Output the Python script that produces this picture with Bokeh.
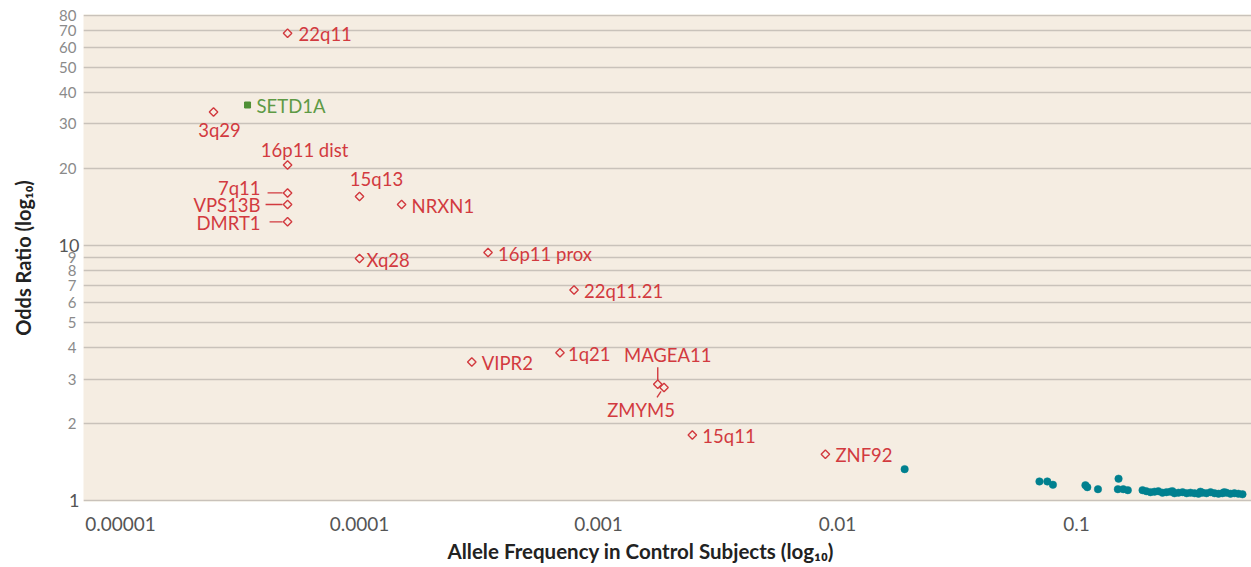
import math
from bokeh.plotting import figure
from bokeh.models import FixedTicker, ColumnDataSource, Title, LogAxis
from bokeh.core.properties import value
from bokeh.embed import file_html
from bokeh.resources import INLINE

# Rare variants (open red diamonds)
rare_names = ["22q11", "3q29", "16p11 dist", "7q11", "VPS13B", "DMRT1", "15q13", "NRXN1",
              "Xq28", "16p11 prox", "22q11.21", "VIPR2", "1q21", "MAGEA11", "ZMYM5",
              "15q11", "ZNF92"]
rare_freq = [5.0e-5, 2.45e-5, 5.0e-5, 5.0e-5, 5.0e-5, 5.0e-5, 1.0e-4, 1.5e-4,
             1.0e-4, 3.45e-4, 7.9e-4, 2.95e-4, 6.9e-4, 1.77e-3, 1.88e-3,
             2.47e-3, 8.9e-3]
rare_or = [68.0, 33.4, 20.7, 16.1, 14.5, 12.4, 15.6, 14.5,
           8.9, 9.4, 6.7, 3.5, 3.8, 2.86, 2.78,
           1.81, 1.52]

# Exome-sequencing hit (green square)
exome_names = ["SETD1A"]
exome_freq = [3.4e-5]
exome_or = [35.6]

# Common variants (teal dots)
common_freq = [0.0191, 0.070, 0.0755, 0.0797, 0.109, 0.111, 0.123, 0.150, 0.149, 0.157, 0.164,
               0.189, 0.196, 0.204, 0.212, 0.220, 0.229, 0.238, 0.247, 0.257, 0.267,
               0.278, 0.289, 0.300, 0.312, 0.324, 0.337, 0.350, 0.364, 0.378, 0.393,
               0.408, 0.424, 0.441, 0.458, 0.476, 0.495, 0.252, 0.330, 0.415]
common_or = [1.33, 1.19, 1.19, 1.155, 1.15, 1.13, 1.11, 1.22, 1.11, 1.11, 1.10,
             1.10, 1.09, 1.08, 1.085, 1.09, 1.075, 1.08, 1.085, 1.07, 1.075,
             1.08, 1.07, 1.075, 1.07, 1.065, 1.075, 1.07, 1.08, 1.07, 1.065,
             1.07, 1.075, 1.065, 1.07, 1.065, 1.06, 1.09, 1.085, 1.08]

y_ticks = [1, 2, 3, 4, 5, 6, 7, 8, 9, 10, 20, 30, 40, 50, 60, 70, 80]
y_emphasis = [1, 10]
x_ticks = [1e-5, 1e-4, 1e-3, 1e-2, 1e-1]
x_tick_labels = ["0.00001", "0.0001", "0.001", "0.01", "0.1"]

# ---- styling / layout ----
W, H = 1251, 567
LEFT, RIGHT, TOP, BOTTOM = 83, 0, 14, 66
X_RANGE = (7.0e-6, 0.54)
Y_RANGE = (0.993, 80.6)
BG = "#f5ede2"
RED = "#d23a3f"
GREEN = "#4f8f35"
TEAL = "#00808f"
GRID = "#c9c2ba"
FONT = "Lato"

frame_w = W - LEFT - RIGHT
frame_h = H - TOP - BOTTOM
px_x = frame_w / (math.log10(X_RANGE[1]) - math.log10(X_RANGE[0]))
px_y = frame_h / (math.log10(Y_RANGE[1]) - math.log10(Y_RANGE[0]))


def shift(x, y, dx, dy):
    """Move a data point by (dx, dy) screen pixels (dy positive = down)."""
    return x * 10 ** (dx / px_x), y * 10 ** (-dy / px_y)


p = figure(width=W, height=H, x_axis_type="log", y_axis_type="log",
           x_range=X_RANGE, y_range=Y_RANGE, output_backend="svg",
           toolbar_location=None, min_border_left=LEFT, min_border_right=RIGHT,
           min_border_top=TOP, min_border_bottom=BOTTOM)
p.background_fill_color = BG
p.border_fill_color = "white"
p.outline_line_color = None

p.xgrid.grid_line_color = None
p.ygrid.ticker = FixedTicker(ticks=y_ticks)
p.ygrid.grid_line_color = GRID
p.ygrid.grid_line_width = 1.6

# inner y axis: light labels between the decades
p.yaxis.ticker = FixedTicker(ticks=y_ticks)
p.yaxis.major_label_overrides = {t: "" for t in y_emphasis}
p.yaxis.axis_line_color = None
p.yaxis.major_tick_line_color = None
p.yaxis.minor_tick_line_color = None
p.yaxis.major_label_standoff = 1
p.yaxis.major_label_text_font = FONT
p.yaxis.major_label_text_font_size = "15px"
p.yaxis.major_label_text_color = "#8a8a8a"

# outer y axis: emphasised decade labels pulled back in line, plus the title
decades = LogAxis(ticker=FixedTicker(ticks=y_emphasis))
decades.major_label_overrides = {t: str(t) for t in y_emphasis}
decades.axis_line_color = None
decades.major_tick_line_color = None
decades.minor_tick_line_color = None
decades.major_label_standoff = -29
decades.major_label_text_font = FONT
decades.major_label_text_font_size = "18px"
decades.major_label_text_color = "#555555"
decades.axis_label = "Odds Ratio (log₁₀)"
decades.axis_label_text_font = FONT
decades.axis_label_text_font_style = "bold"
decades.axis_label_text_font_size = "20px"
decades.axis_label_text_color = "#222222"
decades.axis_label_standoff = 21
p.add_layout(decades, "left")

# x axis
p.xaxis.ticker = FixedTicker(ticks=x_ticks)
p.xaxis.major_label_overrides = {t: s for t, s in zip(x_ticks, x_tick_labels)}
p.xaxis.axis_line_color = None
p.xaxis.major_tick_line_color = None
p.xaxis.minor_tick_line_color = None
p.xaxis.major_label_standoff = 9
p.xaxis.major_label_text_font = FONT
p.xaxis.major_label_text_font_size = "19px"
p.xaxis.major_label_text_color = "#555555"

# x axis title
p.add_layout(Title(text="Allele Frequency in Control Subjects (log₁₀)", align="left",
                   offset=364, text_font=FONT, text_font_size="20.5px",
                   text_font_style="bold", text_color="#222222", standoff=7), "below")

# common variants
p.scatter(common_freq, common_or, marker="circle", size=7.5, fill_color=TEAL,
          line_color=TEAL, line_width=0.5)

# rare variants
p.scatter(rare_freq, rare_or, marker="square", angle=math.pi / 4, size=6,
          fill_color=BG, line_color=RED, line_width=1.4)

# exome hit
p.scatter(exome_freq, exome_or, marker="square", size=6, fill_color=GREEN,
          line_color=GREEN)

# label placement: (dx, dy, align) in screen pixels from the marker
placement = {
    "22q11": (11, 1, "left"),
    "3q29": (6, 18, "center"),
    "16p11 dist": (17, -15, "center"),
    "7q11": (-27, -5, "right"),
    "VPS13B": (-27, 0, "right"),
    "DMRT1": (-27, 1, "right"),
    "15q13": (17, -17, "center"),
    "NRXN1": (10, 1, "left"),
    "Xq28": (7, 1, "left"),
    "16p11 prox": (10, 1, "left"),
    "22q11.21": (10, 1, "left"),
    "VIPR2": (10, 1, "left"),
    "1q21": (8, 1, "left"),
    "MAGEA11": (10, -29, "center"),
    "ZMYM5": (-23, 23, "center"),
    "15q11": (10, 1, "left"),
    "ZNF92": (10, 1, "left"),
}

src = ColumnDataSource(dict(
    x=rare_freq, y=rare_or, text=rare_names,
    dx=[placement[n][0] for n in rare_names],
    dy=[placement[n][1] for n in rare_names],
    align=[placement[n][2] for n in rare_names],
))
p.text(x="x", y="y", text="text", x_offset="dx", y_offset="dy", text_align="align",
       text_baseline="middle", text_font=value(FONT), text_font_size="18.5px",
       text_color=RED, source=src)

p.text(x=exome_freq, y=exome_or, text=exome_names, x_offset=9, y_offset=1,
       text_baseline="middle", text_font=value(FONT), text_font_size="18.5px",
       text_color="#5e9a45")

# leader lines from labels to markers: name -> (dx0, dy0, dx1, dy1)
leaders = {
    "7q11": (-20, 0, -5, 0),
    "VPS13B": (-22, 0, -5, 0),
    "DMRT1": (-18, 0, -5, 0),
    "MAGEA11": (0, -17, 0, -4),
    "ZMYM5": (-3, 4, -7, 10),
}
x0s, y0s, x1s, y1s = [], [], [], []
for n, (a, b, c, d) in leaders.items():
    i = rare_names.index(n)
    xa, ya = shift(rare_freq[i], rare_or[i], a, b)
    xb, yb = shift(rare_freq[i], rare_or[i], c, d)
    x0s.append(xa); y0s.append(ya); x1s.append(xb); y1s.append(yb)
p.segment(x0s, y0s, x1s, y1s, line_color=RED, line_width=1.4)

open("out.html", "w").write(file_html(p, INLINE))
